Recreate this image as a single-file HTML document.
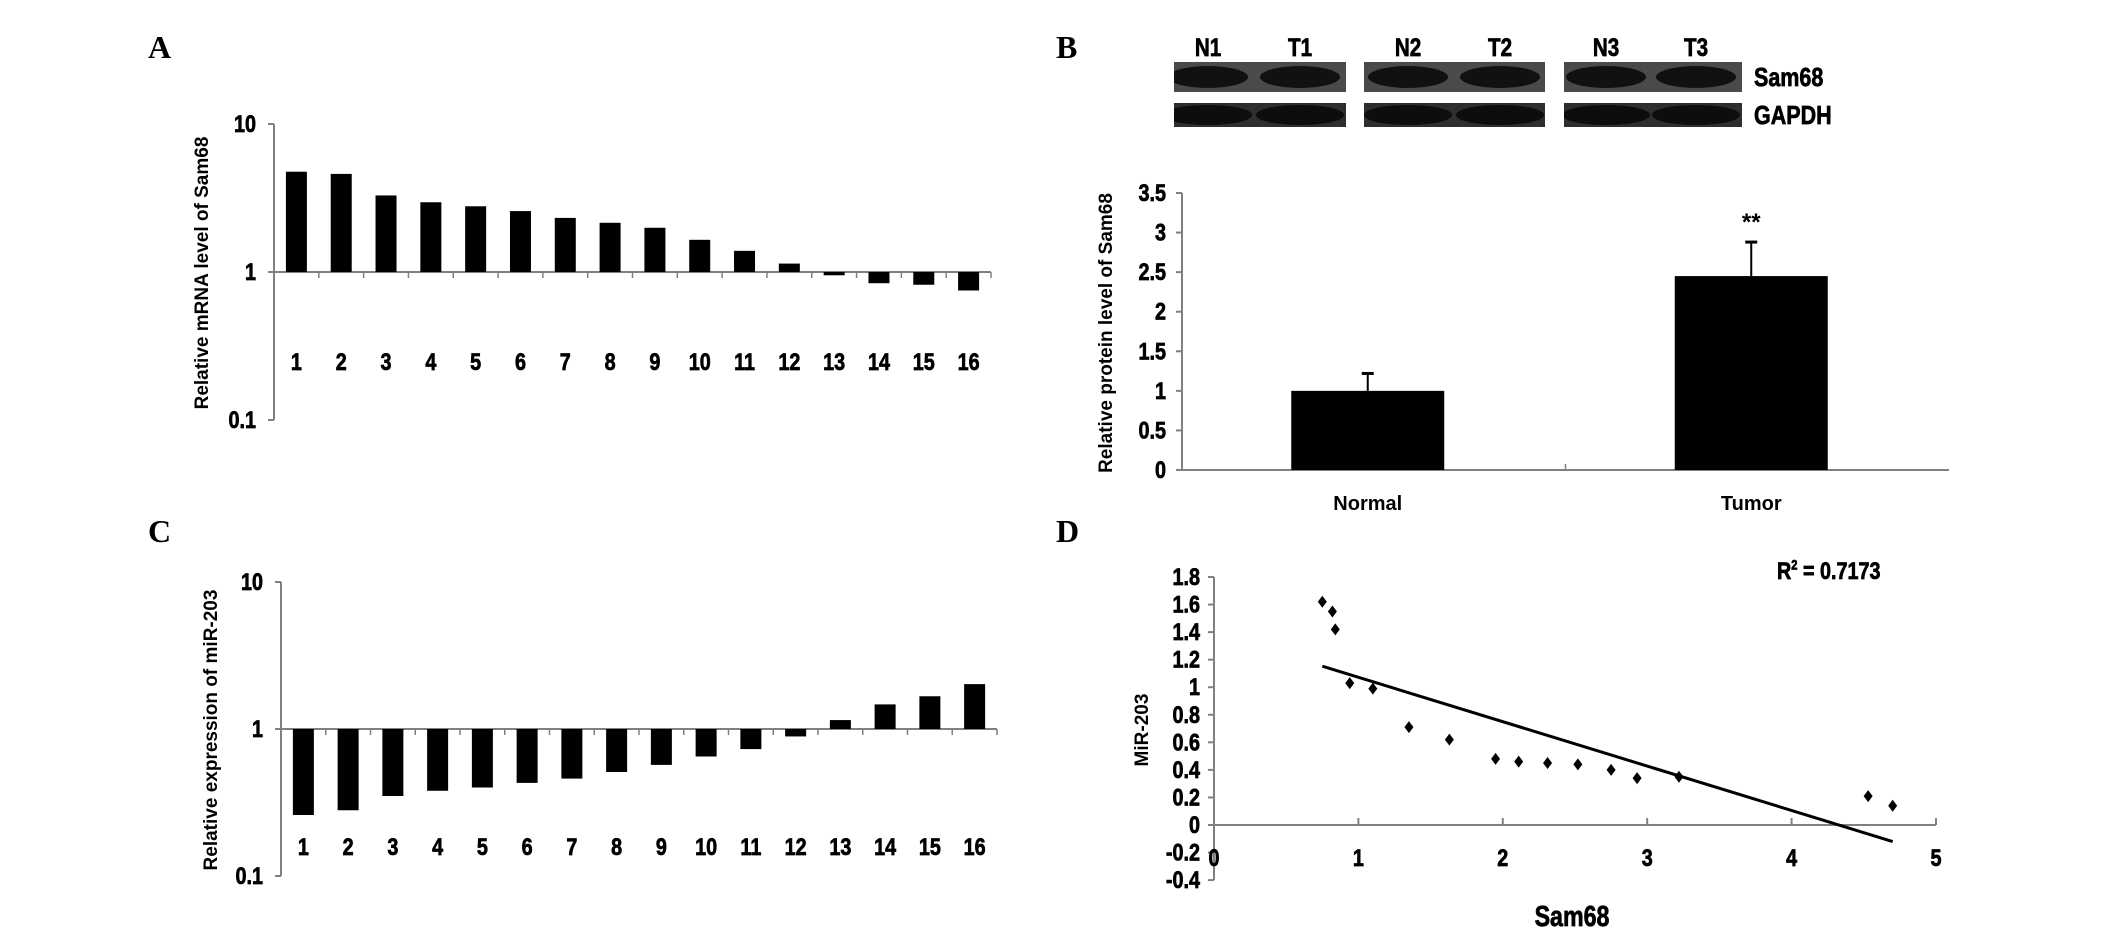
<!DOCTYPE html>
<html><head><meta charset="utf-8"><style>
html,body{margin:0;padding:0;background:#fff;}
svg{display:block;}
.n{font-family:"Liberation Sans",sans-serif;font-weight:bold;fill:#000;stroke:#000;stroke-width:0.7;}
.t{font-family:"Liberation Sans",sans-serif;font-weight:bold;fill:#000;}
.p{font-family:"Liberation Serif",serif;font-weight:bold;fill:#000;}
</style></head><body>
<svg id="fig" width="2126" height="945" viewBox="0 0 2126 945" xmlns="http://www.w3.org/2000/svg">
<text class="p" x="148" y="58" font-size="32">A</text>
<text class="p" x="1056" y="58" font-size="32">B</text>
<text class="p" x="148" y="542" font-size="32">C</text>
<text class="p" x="1056" y="542" font-size="32">D</text>
<g id="gA"></g>
<g id="gB"></g>
<g id="gC"></g>
<g id="gD"></g>
</svg>
<script>
const samples = ["1","2","3","4","5","6","7","8","9","10","11","12","13","14","15","16"];
const sam68mRNA = [4.76,4.6,3.29,2.96,2.78,2.58,2.32,2.15,1.99,1.65,1.39,1.14,0.95,0.84,0.82,0.75];
const mir203Expr = [0.26,0.28,0.35,0.38,0.40,0.43,0.46,0.51,0.57,0.65,0.73,0.89,1.15,1.47,1.67,2.02];
const logTicks = ["10","1","0.1"];
const logTickValues = [10,1,0.1];
const proteinGroups = ["Normal","Tumor"];
const proteinMeans = [1.0,2.45];
const proteinErr = [0.22,0.43];
const proteinTicks = [0,0.5,1,1.5,2,2.5,3,3.5];
const scatterX = [0.75,0.82,0.84,0.94,1.10,1.35,1.63,1.95,2.11,2.31,2.52,2.75,2.93,3.22,4.53,4.70];
const scatterY = [1.62,1.55,1.42,1.03,0.99,0.71,0.62,0.48,0.46,0.45,0.44,0.40,0.34,0.35,0.21,0.14];
const dYTicks = [1.8,1.6,1.4,1.2,1,0.8,0.6,0.4,0.2,0,-0.2,-0.4];
const dXTicks = [0,1,2,3,4,5];
const NS="http://www.w3.org/2000/svg";
function mk(parent,tag,attrs,text){const e=document.createElementNS(NS,tag);for(const k in attrs)e.setAttribute(k,attrs[k]);if(text!==undefined)e.textContent=text;parent.appendChild(e);return e;}
function nt(parent,x,y,anchor,size,txt){
  return mk(parent,"text",{x:0,y:0,"text-anchor":anchor,"font-size":size,class:"n",transform:`translate(${x} ${y}) scale(0.86 1.05)`},txt);
}
const AX="#808080";

function logChart(g,vals,o,title,titleName){
  const yS=v=>o.y1-Math.log10(v)*(o.y1-o.y10);
  const cw=(o.x1-o.x0)/vals.length;
  let e=mk(g,"line",{x1:o.x0,y1:o.y10,x2:o.x0,y2:yS(0.1),stroke:AX,"stroke-width":2});
  
  
  logTickValues.forEach((v,i)=>{
    mk(g,"line",{x1:o.x0-6,y1:yS(v),x2:o.x0,y2:yS(v),stroke:AX,"stroke-width":2});
    const t=nt(g,o.x0-18,yS(v)+8,"end",23,logTicks[i]);
    
    
  });
  e=mk(g,"line",{x1:o.x0,y1:o.y1,x2:o.x1,y2:o.y1,stroke:AX,"stroke-width":2});
  
  
  for(let i=0;i<=vals.length;i++)mk(g,"line",{x1:o.x0+i*cw,y1:o.y1,x2:o.x0+i*cw,y2:o.y1+6,stroke:AX,"stroke-width":1.5});
  vals.forEach((v,i)=>{
    const cx=o.x0+(i+0.5)*cw, y=yS(v);
    const r=mk(g,"rect",{x:cx-o.bw/2,y:Math.min(y,o.y1),width:o.bw,height:Math.abs(y-o.y1),fill:"#000"});
    
    
    const t=nt(g,cx,o.ly,"middle",23,samples[i]);
    
    
  });
  const tt=mk(g,"text",{x:o.tx,y:o.ty,"text-anchor":"middle","font-size":19,class:"t",transform:`rotate(-90 ${o.tx} ${o.ty})`},title);
  
  
}
logChart(document.getElementById("gA"),sam68mRNA,{x0:274,x1:991,y10:124,y1:272,bw:21,ly:370,tx:208,ty:273},"Relative mRNA level of Sam68","y-axis-title-a");
logChart(document.getElementById("gC"),mir203Expr,{x0:281,x1:997,y10:582,y1:729,bw:21,ly:855,tx:217,ty:730},"Relative expression of miR-203","y-axis-title-c");

// Panel B
(function(){
  const g=document.getElementById("gB");
  const strips=[[1174,1346],[1364,1545],[1564,1742]];
  const lanes=[["N1",1208,0],["T1",1300,0],["N2",1408,1],["T2",1500,1],["N3",1606,2],["T3",1696,2]];
  const defs=mk(g,"defs",{});
  strips.forEach((s,i)=>{
    const cp=mk(defs,"clipPath",{id:"cs"+i});
    mk(cp,"rect",{x:s[0],y:62,width:s[1]-s[0],height:30});
    const cg=mk(defs,"clipPath",{id:"cg"+i});
    mk(cg,"rect",{x:s[0],y:103,width:s[1]-s[0],height:24});
    let r=mk(g,"rect",{x:s[0],y:62,width:s[1]-s[0],height:30,fill:"#4a4a4a"});
    
    
    r=mk(g,"rect",{x:s[0],y:103,width:s[1]-s[0],height:24,fill:"#2e2e2e"});
    
    
  });
  lanes.forEach(l=>{
    mk(g,"ellipse",{cx:l[1],cy:77,rx:40,ry:11,fill:"#111","clip-path":`url(#cs${l[2]})`});
    mk(g,"ellipse",{cx:l[1],cy:115,rx:44,ry:10,fill:"#0d0d0d","clip-path":`url(#cg${l[2]})`});
    const t=nt(g,l[1],56,"middle",24,l[0]);
    
    
  });
  let t=nt(g,1754,86,"start",25,"Sam68");
  
  
  t=nt(g,1754,124,"start",25,"GAPDH");
  
  
  const x0=1182,x1=1949,y0=470,yTop=193;
  const yS=v=>y0-v/3.5*(y0-yTop);
  mk(g,"line",{x1:x0,y1:yTop,x2:x0,y2:y0,stroke:AX,"stroke-width":2});
  proteinTicks.forEach(v=>{
    mk(g,"line",{x1:x0-6,y1:yS(v),x2:x0,y2:yS(v),stroke:AX,"stroke-width":2});
    const tt=nt(g,x0-16,yS(v)+8,"end",23,String(v));
    
    
  });
  mk(g,"line",{x1:x0,y1:y0,x2:x1,y2:y0,stroke:AX,"stroke-width":2});
  const cw=(x1-x0)/proteinGroups.length;
  mk(g,"line",{x1:x0+cw,y1:y0,x2:x0+cw,y2:y0-6,stroke:AX,"stroke-width":1.5});
  proteinGroups.forEach((n,i)=>{
    const cx=x0+(i+0.5)*cw-6, bw=153;
    mk(g,"line",{x1:cx,y1:yS(proteinMeans[i]),x2:cx,y2:yS(proteinMeans[i]+proteinErr[i]),stroke:"#000","stroke-width":2});
    mk(g,"line",{x1:cx-6,y1:yS(proteinMeans[i]+proteinErr[i]),x2:cx+6,y2:yS(proteinMeans[i]+proteinErr[i]),stroke:"#000","stroke-width":3});
    const r=mk(g,"rect",{x:cx-bw/2,y:yS(proteinMeans[i]),width:bw,height:y0-yS(proteinMeans[i]),fill:"#000"});
    
    
    const tt=mk(g,"text",{x:cx,y:510,"text-anchor":"middle","font-size":20,class:"t"},n);
    
    
  });
  t=mk(g,"text",{x:x0+1.5*cw-6,y:yS(proteinMeans[1]+proteinErr[1])-12,"text-anchor":"middle","font-size":24,class:"t"},"**");
  
  
  t=mk(g,"text",{x:1112,y:333,"text-anchor":"middle","font-size":19,class:"t",transform:"rotate(-90 1112 333)"},"Relative protein level of Sam68");
  
  
})();

// Panel D
(function(){
  const g=document.getElementById("gD");
  const x0=1214,x5=1936,yz=825,per=(825-577)/1.8;
  const xS=v=>x0+v*(x5-x0)/5, yS=v=>yz-v*per;
  mk(g,"line",{x1:x0,y1:yS(1.8),x2:x0,y2:yS(-0.4),stroke:AX,"stroke-width":2});
  dYTicks.forEach(v=>{
    mk(g,"line",{x1:x0-6,y1:yS(v),x2:x0,y2:yS(v),stroke:AX,"stroke-width":2});
    const t=nt(g,x0-14,yS(v)+8,"end",23,String(v));
    
    
  });
  mk(g,"line",{x1:x0,y1:yz,x2:x5,y2:yz,stroke:AX,"stroke-width":2});
  dXTicks.forEach(v=>{
    mk(g,"line",{x1:xS(v),y1:yz,x2:xS(v),y2:yz-7,stroke:AX,"stroke-width":2});
    const t=nt(g,xS(v),866,"middle",23,String(v));
    
    
  });
  const n=scatterX.length, mx=scatterX.reduce((a,b)=>a+b)/n, my=scatterY.reduce((a,b)=>a+b)/n;
  let sxy=0,sxx=0;for(let i=0;i<n;i++){sxy+=(scatterX[i]-mx)*(scatterY[i]-my);sxx+=(scatterX[i]-mx)**2;}
  const b=sxy/sxx,a=my-b*mx, xa=Math.min(...scatterX), xb=Math.max(...scatterX);
  const tl=mk(g,"line",{x1:xS(xa),y1:yS(a+b*xa),x2:xS(xb),y2:yS(a+b*xb),stroke:"#000","stroke-width":3});
  
  
  scatterX.forEach((x,i)=>{
    const cx=xS(x),cy=yS(scatterY[i]);
    const p=mk(g,"polygon",{points:`${cx},${cy-6} ${cx+4.5},${cy} ${cx},${cy+6} ${cx-4.5},${cy}`,fill:"#000"});
    
    
  });
  let t=nt(g,1777,579,"start",23,"");
  t.innerHTML='R<tspan dy="-9" font-size="13">2</tspan><tspan dy="9"> = 0.7173</tspan>';
  
  
  t=nt(g,1572,926,"middle",27,"Sam68");
  
  
  t=mk(g,"text",{x:1148,y:730,"text-anchor":"middle","font-size":19,class:"t",transform:"rotate(-90 1148 730)"},"MiR-203");
  
  
})();
</script>
</body></html>
